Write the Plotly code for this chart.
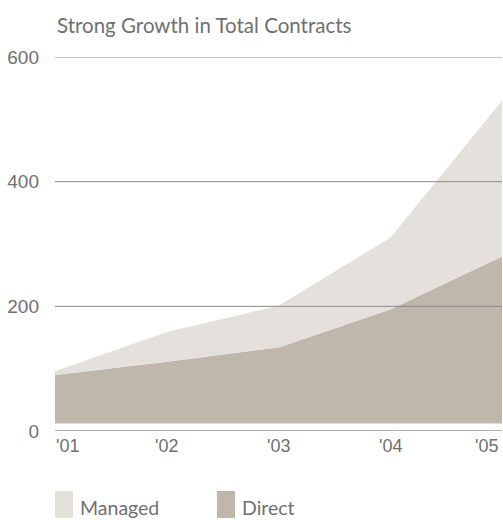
import plotly.graph_objects as go

# ---- data ----
years = ["'01", "'02", "'03", "'04", "'05"]
managed_total = [96, 159, 201, 310, 530]   # top of the Managed (light) area
direct = [90, 111, 134, 195, 280]          # top of the Direct (dark) area
area_base = 12                              # the areas sit slightly above the 0 line
y_ticks = [0, 200, 400, 600]
legend_labels = ["Managed", "Direct"]

C_MANAGED = "#e4e1dc"
C_DIRECT = "#bfb7ac"
C_TEXT = "#707070"
C_GRID = "#8a8a8a"
C_ZERO = "#b0b0b0"
SANS = "Liberation Sans, Arial, sans-serif"
GEO = "Lato, Liberation Sans, sans-serif"

fig = go.Figure()
fig.add_trace(go.Scatter(x=years, y=[area_base] * len(years), mode="lines",
                         line=dict(width=0), hoverinfo="skip", showlegend=False))
fig.add_trace(go.Scatter(x=years, y=direct, mode="lines", fill="tonexty",
                         fillcolor=C_DIRECT, line=dict(width=0),
                         name=legend_labels[1], showlegend=False))
fig.add_trace(go.Scatter(x=years, y=managed_total, mode="lines", fill="tonexty",
                         fillcolor=C_MANAGED, line=dict(width=0),
                         name=legend_labels[0], showlegend=False))

shapes = []
for v in y_ticks:
    shapes.append(dict(type="line", xref="paper", yref="y", x0=0, x1=1, y0=v, y1=v,
                       line=dict(color=C_ZERO if v == 0 else C_GRID,
                                 width=2 if v == 0 else 1),
                       layer="above"))

# legend swatches (pixel sized, anchored under the plot)
for i, (lab, col) in enumerate(zip(legend_labels, [C_MANAGED, C_DIRECT])):
    xoff = [0, 162][i]
    shapes.append(dict(type="rect", xref="paper", yref="paper",
                       xsizemode="pixel", ysizemode="pixel",
                       xanchor=0, yanchor=0,
                       x0=xoff, x1=xoff + 18, y0=-60, y1=-87,
                       fillcolor=col, line=dict(width=0)))

annotations = []
for i, lab in enumerate(legend_labels):
    xoff = [0, 162][i]
    annotations.append(dict(text=lab, xref="paper", yref="paper", x=0, y=0,
                            xanchor="left", yanchor="middle",
                            xshift=xoff + 23, yshift=-76, showarrow=False,
                            font=dict(family=GEO, size=19.5, color=C_TEXT)))

# x tick labels (first left-aligned, last right-aligned)
for i, yr in enumerate(years):
    anchor = "left" if i == 0 else ("right" if i == len(years) - 1 else "center")
    annotations.append(dict(text=yr, xref="x", yref="paper", x=yr, y=0,
                            xanchor=anchor, yanchor="middle", yshift=-15,
                            xshift=-1 if i == 0 else (-2 if i == len(years) - 1 else 0),
                            showarrow=False,
                            font=dict(family=SANS, size=18, color=C_TEXT)))

annotations.append(dict(text="Strong Growth in Total Contracts", xref="paper",
                        yref="paper", x=0, y=1, xanchor="left", yanchor="middle",
                        xshift=0, yshift=32, showarrow=False,
                        font=dict(family=GEO, size=20.5, color=C_TEXT)))

fig.update_layout(
    width=503, height=520,
    margin=dict(l=55, r=1, t=57, b=89),
    paper_bgcolor="white", plot_bgcolor="white",
    showlegend=False,
    xaxis=dict(type="category", range=[0, len(years) - 1], showgrid=False,
               zeroline=False, showline=False, showticklabels=False, ticks=""),
    yaxis=dict(range=[0, 600], tickvals=y_ticks, showgrid=False, zeroline=False,
               showline=False, ticks="", ticklabelstandoff=15,
               tickfont=dict(family=SANS, size=19, color=C_TEXT)),
    shapes=shapes, annotations=annotations,
)

fig.write_html("out.html")
